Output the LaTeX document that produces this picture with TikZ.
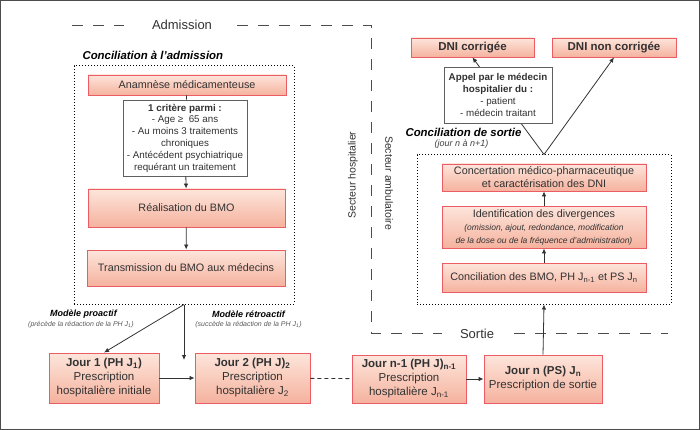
\documentclass[tikz,border=0pt]{standalone}
\usepackage{fontspec}
\setmainfont{Liberation Sans}
\usepackage{xcolor}
\usetikzlibrary{arrows.meta}

\definecolor{boxtop}{RGB}{253,229,219}
\definecolor{boxbot}{RGB}{245,178,158}
\definecolor{boxline}{RGB}{236,92,100}
\definecolor{txtgray}{RGB}{50,50,50}
\definecolor{critline}{RGB}{95,95,95}

\newcommand\boxfont{\fontsize{10.8}{13}\selectfont}
\newcommand\jourfont{\fontsize{11.5}{14}\selectfont}
\newcommand\critfont{\fontsize{9.8}{11.8}\selectfont}
\newcommand\notefont{\fontsize{7}{8}\selectfont}
\newcommand\divnote[1]{{\fontsize{8.5}{10.5}\selectfont\itshape #1}}

\tikzset{
  pinkbox/.style={draw=boxline, line width=0.9pt, top color=boxtop, bottom color=boxbot, align=center, inner sep=1pt, text=txtgray},
  whitebox/.style={draw=critline, line width=0.9pt, fill=white, align=center, inner sep=1pt, text=txtgray},
  dotbox/.style={draw=black, line width=1pt, dotted, inner sep=0pt},
  arr/.style={draw=txtgray, line width=0.8pt, -{Latex[length=5pt,width=4.5pt]}},
  sectdash/.style={draw=black!70, line width=0.8pt, dash pattern=on 11pt off 10pt},
}

\begin{document}
\begin{tikzpicture}[x=1pt,y=1pt,yscale=-1,xscale=1]
\useasboundingbox (0,0) rectangle (700,430);
%Shape: Frame
\draw [draw=black!70, line width=1.2pt] (0.6,0.6) rectangle (699.4,429.4);

%Dashed Lines: sectors
\draw [sectdash] (72,25) -- (124,25);
\draw [sectdash] (237,25) -- (371,25) -- (371,333) -- (442,333);
\draw [sectdash] (514,333) -- (668,333);

% Text Node
\node [text=txtgray, font=\fontsize{13}{15}\selectfont] (admission) at (182,25) {Admission};
% Text Node
\node [text=txtgray, font=\fontsize{13}{15}\selectfont] (sortie) at (477,334) {Sortie};
% Text Node
\node [text=txtgray, font=\fontsize{10.5}{12}\selectfont, rotate=90] (hosp) at (353,175) {Secteur hospitalier};
% Text Node
\node [text=txtgray, font=\fontsize{10.5}{12}\selectfont, rotate=-90] (ambu) at (389,183) {Secteur ambulatoire};

%Dotted box: admission
\node [dotbox, minimum width=220, minimum height=238] (admibox) at (184,185) {};
% Text Node
\node [anchor=west, text=black, font=\fontsize{11.4}{13}\selectfont\bfseries\itshape] (conciladm) at (79,55) {Conciliation à l’admission};

%Flowchart: Process
\node [pinkbox, font=\boxfont, minimum width=198, minimum height=20] (anam) at (187,85) {Anamnèse médicamenteuse};
%Flowchart: Process
\node [whitebox, font=\critfont, minimum width=124, minimum height=76] (crit) at (185,138) {\textbf{1 critère parmi :}\\- Age ≥~ 65 ans\\- Au moins 3 traitements\\chroniques\\- Antécédent psychiatrique\\requérant un traitement};
%Flowchart: Process
\node [pinkbox, font=\boxfont, minimum width=197, minimum height=38] (realis) at (186.5,208) {Réalisation du BMO};
%Flowchart: Process
\node [pinkbox, font=\boxfont, minimum width=198, minimum height=36] (transm) at (186,268) {Transmission du BMO aux médecins};

%Straight Lines
\draw [draw=txtgray, line width=0.8pt] (anam) -- (crit);
\draw [arr] (crit) -- (realis);
\draw [arr] (realis) -- (transm);

%Flowchart: Process
\node [pinkbox, font=\jourfont, minimum width=110, minimum height=50] (jour1) at (104,378) {\textbf{Jour 1 (PH J\textsubscript{1})}\\Prescription\\hospitalière initiale};
%Flowchart: Process
\node [pinkbox, font=\jourfont, minimum width=115, minimum height=50] (jour2) at (252.5,378) {\textbf{Jour 2 (PH J)\textsubscript{2}}\\Prescription\\hospitalière J\textsubscript{2}};
%Flowchart: Process
\node [pinkbox, font=\jourfont, minimum width=114, minimum height=48] (journ1) at (409,379) {\textbf{Jour n-1 (PH J)\textsubscript{n-1}}\\Prescription\\hospitalière J\textsubscript{n-1}};
%Flowchart: Process
\node [pinkbox, font=\jourfont, minimum width=118, minimum height=48] (journ) at (543,379) {\textbf{Jour n (PS) J\textsubscript{n}}\\Prescription de sortie};

%Straight Lines
\coordinate (retro) at (184,360);
\draw [arr] (admibox.south) -- (jour1.north);
\draw [arr] (admibox.south) -- (retro);
\draw [arr] (jour1) -- (jour2);
\draw [draw=txtgray, line width=0.8pt, dash pattern=on 4pt off 3pt] (jour2) -- (journ1);
\draw [arr] (journ1) -- (journ);

% Text Node
\node [text=black, font=\fontsize{9}{10}\selectfont\bfseries\itshape] (proact) at (83.5,314) {Modèle proactif};
% Text Node
\node [text=black!65, font=\notefont\itshape] (proactnote) at (81,325) {(précède la rédaction de la PH J\textsubscript{1})};
% Text Node
\node [text=black, font=\fontsize{9}{10}\selectfont\bfseries\itshape] (retroact) at (248.5,314) {Modèle rétroactif};
% Text Node
\node [text=black!65, font=\notefont\itshape] (retroactnote) at (248.5,325) {(succède la rédaction de la PH J\textsubscript{1})};

%Dotted box: sortie
\node [dotbox, minimum width=254, minimum height=149] (sortiebox) at (544,229.5) {};
% Text Node
\node [anchor=west, text=black, font=\fontsize{11.4}{13}\selectfont\bfseries\itshape] (concilsort) at (402,132) {Conciliation de sortie};
% Text Node
\node [text=black!75, font=\fontsize{9}{10}\selectfont\itshape] (jourint) at (461.5,144) {(jour n à n+1)};

%Flowchart: Process
\node [pinkbox, font=\boxfont, minimum width=204, minimum height=27] (concert) at (544,177.5) {Concertation médico-pharmaceutique\\et caractérisation des DNI};
%Flowchart: Process
\node [pinkbox, font=\boxfont, minimum width=204, minimum height=42] (ident) at (544,227) {Identification des divergences\\\divnote{(omission, ajout, redondance, modification}\\\divnote{de la dose ou de la fréquence d’administration)}};
%Flowchart: Process
\node [pinkbox, font=\boxfont, minimum width=204, minimum height=29] (concil) at (544,277.5) {Conciliation des BMO, PH J\textsubscript{n-1} et PS J\textsubscript{n}};

%Straight Lines
\draw [arr] (concil) -- (ident);
\draw [arr] (ident) -- (concert);
\draw [arr] (journ.north) -- (sortiebox.south);

%Flowchart: Process
\node [pinkbox, font=\fontsize{11.5}{13}\selectfont\bfseries, minimum width=123, minimum height=19] (dnic) at (472.5,47.5) {DNI corrigée};
%Flowchart: Process
\node [pinkbox, font=\fontsize{11.5}{13}\selectfont\bfseries, minimum width=124, minimum height=19] (dninc) at (614,47.5) {DNI non corrigée};

%Straight Lines
\draw [arr] (sortiebox.north) -- (dnic.south);
\draw [arr] (sortiebox.north) -- (dninc.south);

%Flowchart: Process
\node [whitebox, font=\critfont, minimum width=108, minimum height=56] (appel) at (498,95) {\textbf{Appel par le médecin}\\\textbf{hospitalier du :}\\- patient\\- médecin traitant};

\end{tikzpicture}
\end{document}
